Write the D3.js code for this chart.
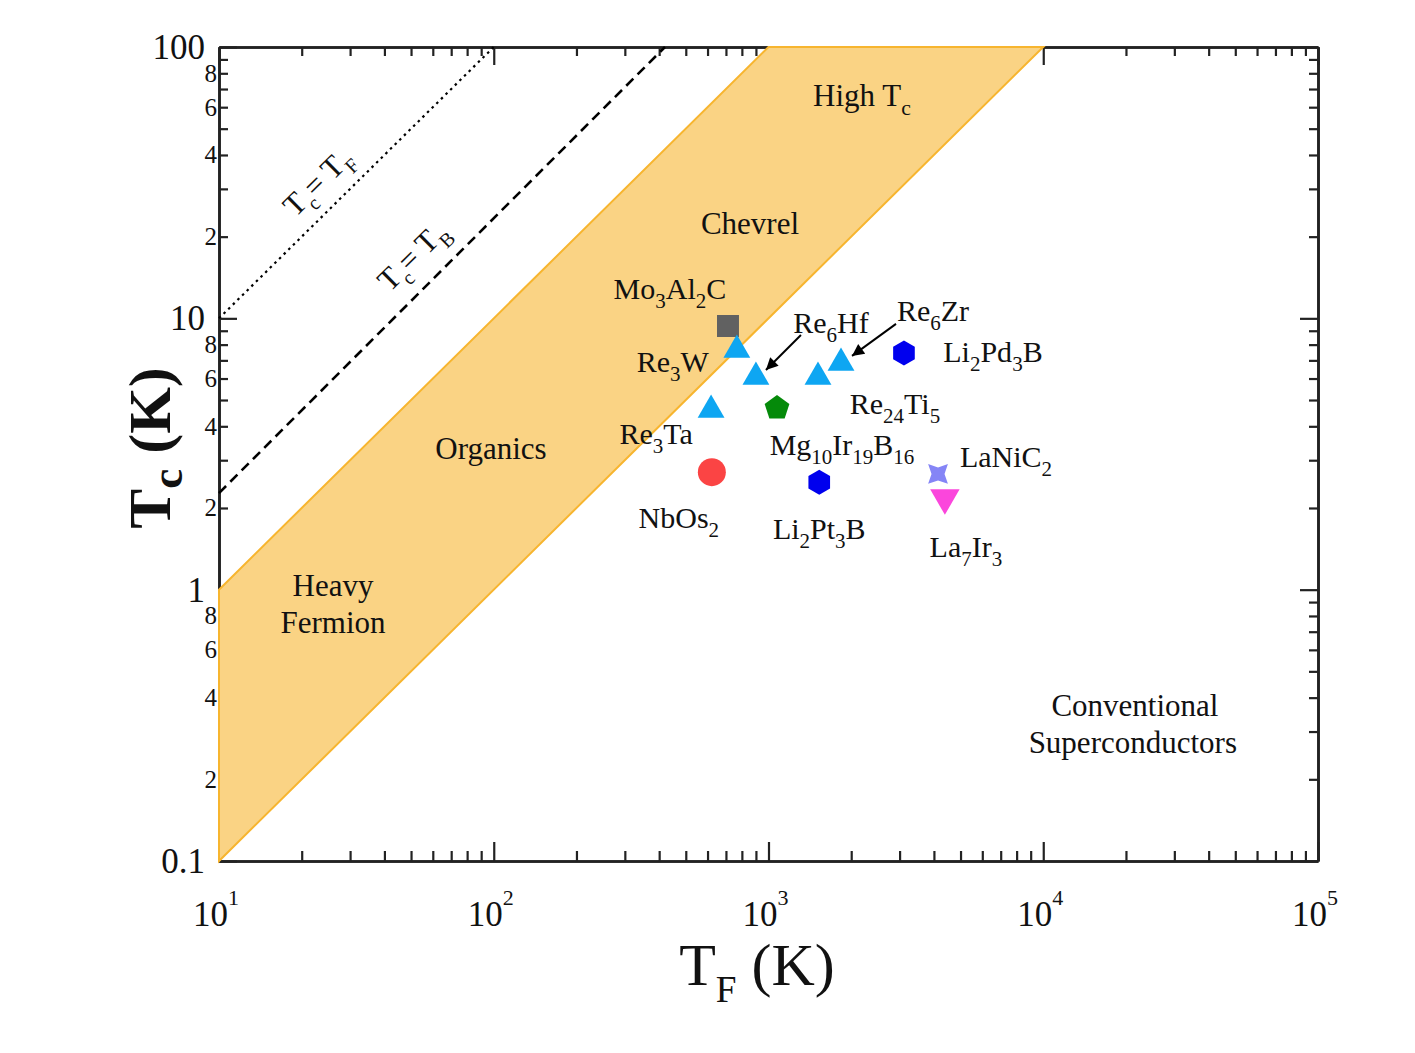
<!DOCTYPE html>
<html>
<head>
<meta charset="utf-8">
<script src="https://cdn.jsdelivr.net/npm/d3@7"></script>
<style>
  html, body { margin: 0; padding: 0; background: #fff; }
  svg { display: block; font-family: "Liberation Serif", "Times New Roman", serif; }
</style>
</head>
<body>
<svg id="chart" width="1415" height="1053"></svg>
<script>
// ---------------- data ----------------
const materials = ["Mo_3Al_2C", "Re_3W", "Re_6Hf", "Re_24Ti_5", "Re_6Zr", "Re_3Ta",
                   "Mg_10Ir_19B_16", "NbOs_2", "Li_2Pt_3B", "Li_2Pd_3B", "LaNiC_2", "La_7Ir_3"];
const fermiTemp = [712, 767, 900, 1514, 1836, 618, 1074, 622, 1530, 3112, 4140, 4385];   // T_F (K)
const critTemp  = [9.37, 7.64, 6.08, 6.08, 6.85, 4.59, 4.67, 2.71, 2.49, 7.45, 2.67, 2.18]; // T_c (K)
const markerShape = ["square", "triUp", "triUp", "triUp", "triUp", "triUp",
                     "pentagon", "circle", "hexagon", "hexagon", "star4", "triDown"];

// band of unconventional superconductors (T_F, T_c)
const bandTF = [10, 10, 1000, 10000];
const bandTc = [0.1, 1, 100, 100];

// reference lines
const lineTF_TF = [10, 100];   const lineTF_Tc = [10, 100];     // Tc = TF
const lineTB_TF = [10, 420];   const lineTB_Tc = [2.27, 100];   // Tc = TB

// region labels
const regionText = ["High T_c", "Chevrel", "Organics", "Heavy", "Fermion", "Conventional", "Superconductors"];
const regionTF   = [2189, 856, 97.7, 26, 26, 21570, 21180];
const regionTc   = [60.6, 20.5, 3.03, 0.948, 0.692, 0.342, 0.25];

const xMajor = [10, 100, 1000, 10000, 100000];
const xExp   = ["1", "2", "3", "4", "5"];
const yMajor = [0.1, 1, 10, 100];
const yMajorLabels = ["0.1", "1", "10", "100"];
const yMinorLabelDigits = [2, 4, 6, 8];

// ---------------- layout / style ----------------
const W = 1415, H = 1053;
const L = 219, R = 1318, T = 47, B = 861;
const colors = {
  square: "#616161", triUp: "#0ea6f2", pentagon: "#058a0a", circle: "#fb4444",
  hexagon: "#0000ee", star4: "#8585f6", triDown: "#fb46dc"
};
// label offsets (px) relative to marker centre: [dx, dy(baseline)]
const labelOffset = {
  "Mo_3Al_2C": [-58, -27], "Re_3W": [-64, 22], "Re_6Hf": [75, -44], "Re_6Zr": [92, -42],
  "Li_2Pd_3B": [89, 9], "Re_24Ti_5": [77, 37], "Re_3Ta": [-55, 34], "Mg_10Ir_19B_16": [65, 47],
  "LaNiC_2": [68, -7], "NbOs_2": [-33, 56], "Li_2Pt_3B": [0, 57], "La_7Ir_3": [21, 59]
};
// arrows: [material, tailDx, tailDy, tipDx, tipDy]
const arrows = [["Re_6Hf", 45, -42, 10, -7], ["Re_6Zr", 55, -39, 11, -7]];

const svg = d3.select("#chart");
const x = d3.scaleLog().domain([10, 1e5]).range([L, R]);
const y = d3.scaleLog().domain([0.1, 100]).range([B, T]);

function richText(sel, str, fs, subScale = 0.7, shift = 0.3) {
  const re = /_(\d+|[A-Za-z])/g;
  let last = 0, m, shifted = false;
  const toks = [];
  while ((m = re.exec(str)) !== null) {
    if (m.index > last) toks.push({ s: str.slice(last, m.index), sub: false });
    toks.push({ s: m[1], sub: true });
    last = re.lastIndex;
  }
  if (last < str.length) toks.push({ s: str.slice(last), sub: false });
  toks.forEach(t => {
    const ts = sel.append("tspan").text(t.s);
    if (t.sub) {
      ts.attr("font-size", fs * subScale).attr("dy", shifted ? 0 : fs * shift);
      shifted = true;
    } else if (shifted) {
      ts.attr("dy", -fs * shift);
      shifted = false;
    }
  });
  return sel;
}

// ---------------- axes ----------------
const minorX = [];
for (let d = 10; d < 1e5; d *= 10) for (let k = 2; k <= 9; k++) minorX.push(d * k);
const minorY = [];
for (let d = 0.1; d < 100; d *= 10) for (let k = 2; k <= 9; k++) minorY.push(+(d * k).toPrecision(3));

const axisColor = "#222";
function drawAxis(gen, tr, vals, size) {
  const g = svg.append("g").attr("transform", tr)
    .call(gen.tickValues(vals).tickSize(size).tickSizeOuter(0).tickFormat(""));
  g.selectAll("path.domain").attr("stroke", axisColor).attr("stroke-width", 2.6);
  g.selectAll(".tick line").attr("stroke", axisColor).attr("stroke-width", 2.2);
  return g;
}
drawAxis(d3.axisBottom(x), `translate(0,${B})`, xMajor, -19);
drawAxis(d3.axisBottom(x), `translate(0,${B})`, minorX, -10);
drawAxis(d3.axisTop(x), `translate(0,${T})`, xMajor, -18);
drawAxis(d3.axisTop(x), `translate(0,${T})`, minorX, -9);
drawAxis(d3.axisLeft(y), `translate(${L},0)`, yMajor, -18);
drawAxis(d3.axisLeft(y), `translate(${L},0)`, minorY, -9);
drawAxis(d3.axisRight(y), `translate(${R},0)`, yMajor, -18);
drawAxis(d3.axisRight(y), `translate(${R},0)`, minorY, -9);

// x tick labels 10^n
xMajor.forEach((v, i) => {
  const t = svg.append("text").attr("x", x(v) - 3).attr("y", 926)
    .attr("text-anchor", "middle").attr("font-size", 35).attr("fill", "#111");
  t.append("tspan").text("10");
  t.append("tspan").attr("font-size", 22).attr("dy", -21).text(xExp[i]);
});
// y tick labels
yMajor.forEach((v, i) => {
  svg.append("text").attr("x", 205).attr("y", y(v) + 12)
    .attr("text-anchor", "end").attr("font-size", 35).attr("fill", "#111")
    .text(yMajorLabels[i]);
});
[0.1, 1, 10].forEach(d => {
  yMinorLabelDigits.forEach(k => {
    svg.append("text").attr("x", 217).attr("y", y(d * k) + 8.5)
      .attr("text-anchor", "end").attr("font-size", 25).attr("fill", "#111").text(k);
  });
});

// axis titles
richText(svg.append("text").attr("x", 757).attr("y", 985).attr("text-anchor", "middle")
  .attr("font-size", 60).attr("fill", "#111"), "T_F (K)", 60, 0.62, 0.28);
richText(svg.append("text").attr("transform", "translate(170,448) rotate(-90)")
  .attr("text-anchor", "middle").attr("font-size", 60).attr("font-weight", "bold").attr("fill", "#111"),
  "T_c (K)", 60, 0.75, 0.2);

// ---------------- band ----------------
const bandPts = bandTF.map((v, i) => [x(v), y(bandTc[i])]);
svg.append("path").attr("d", d3.line()(bandPts) + "Z")
  .attr("fill", "#fad384").attr("stroke", "#f7b52f").attr("stroke-width", 2);

// ---------------- reference lines ----------------
svg.append("path")
  .attr("d", d3.line()(lineTF_TF.map((v, i) => [x(v), y(lineTF_Tc[i])])))
  .attr("stroke", "#000").attr("stroke-width", 2.2).attr("stroke-dasharray", "2.5,4").attr("fill", "none");
svg.append("path")
  .attr("d", d3.line()(lineTB_TF.map((v, i) => [x(v), y(lineTB_Tc[i])])))
  .attr("stroke", "#000").attr("stroke-width", 2.6).attr("stroke-dasharray", "10,6").attr("fill", "none");

function rotLabel(tf, tc, str, ang) {
  const t = svg.append("text")
    .attr("transform", `translate(${x(tf)},${y(tc)}) rotate(${ang})`)
    .attr("x", 0).attr("y", 4).attr("text-anchor", "middle").attr("font-size", 31).attr("fill", "#111");
  richText(t, str, 31, 0.65, 0.3);
}
rotLabel(23.7, 30.7, "T_c= T_F", -44.6);
rotLabel(52.6, 16.4, "T_c= T_B", -44.6);

// ---------------- region labels ----------------
regionText.forEach((s, i) => {
  const t = svg.append("text").attr("x", x(regionTF[i])).attr("y", y(regionTc[i]))
    .attr("text-anchor", "middle").attr("font-size", 31).attr("fill", "#111");
  richText(t, s, 31, 0.7, 0.3);
});

// ---------------- markers ----------------
function polyPath(n, r, rot) {
  const pts = d3.range(n).map(k => {
    const a = rot + k * 2 * Math.PI / n;
    return [r * Math.cos(a), r * Math.sin(a)];
  });
  return d3.line()(pts) + "Z";
}
function starPath(ro, ri) {
  const pts = d3.range(8).map(k => {
    const a = -Math.PI / 4 + k * Math.PI / 4;
    const r = k % 2 === 0 ? ro : ri;
    return [r * Math.cos(a), r * Math.sin(a)];
  });
  return d3.line()(pts) + "Z";
}
const shapePath = {
  square: "M-11,-11H11V11H-11Z",
  triUp: polyPath(3, 15.5, -Math.PI / 2),
  triDown: polyPath(3, 17, Math.PI / 2),
  pentagon: polyPath(5, 13, -Math.PI / 2),
  hexagon: polyPath(6, 12.5, -Math.PI / 2),
  star4: starPath(14, 6.5),
  circle: d3.symbol(d3.symbolCircle, Math.PI * 14 * 14)()
};

const pts = materials.map((m, i) => ({ m, cx: x(fermiTemp[i]), cy: y(critTemp[i]), s: markerShape[i] }));
svg.append("g").selectAll("path").data(pts).join("path")
  .attr("transform", d => `translate(${d.cx},${d.cy})`)
  .attr("d", d => shapePath[d.s])
  .attr("fill", d => colors[d.s]);

pts.forEach(d => {
  const o = labelOffset[d.m];
  const t = svg.append("text").attr("x", d.cx + o[0]).attr("y", d.cy + o[1])
    .attr("text-anchor", "middle").attr("font-size", 30).attr("fill", "#111");
  richText(t, d.m, 30, 0.7, 0.3);
});

// arrows
svg.append("defs").append("marker").attr("id", "ah")
  .attr("viewBox", "0 0 10 10").attr("refX", 10).attr("refY", 5)
  .attr("markerWidth", 7).attr("markerHeight", 6).attr("markerUnits", "strokeWidth")
  .attr("orient", "auto")
  .append("path").attr("d", "M0,0L10,5L0,10Z").attr("fill", "#000");
arrows.forEach(a => {
  const d = pts.find(p => p.m === a[0]);
  svg.append("line")
    .attr("x1", d.cx + a[1]).attr("y1", d.cy + a[2])
    .attr("x2", d.cx + a[3]).attr("y2", d.cy + a[4])
    .attr("stroke", "#000").attr("stroke-width", 2).attr("marker-end", "url(#ah)");
});
</script>
</body>
</html>
